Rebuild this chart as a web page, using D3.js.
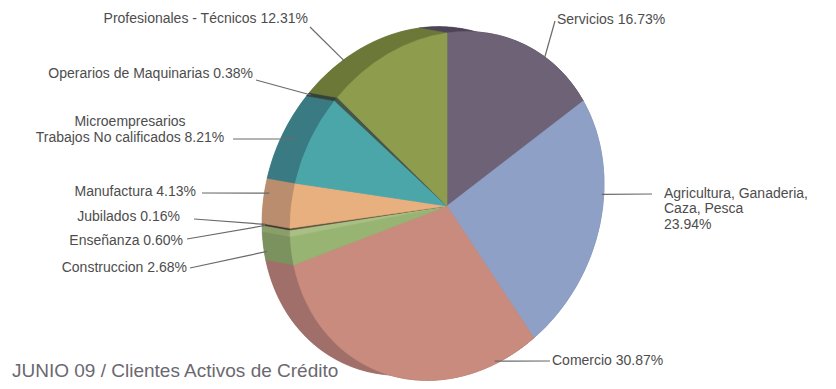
<!DOCTYPE html>
<html>
<head>
<meta charset="utf-8">
<script src="https://cdn.jsdelivr.net/npm/d3@7"></script>
<style>
  html, body { margin: 0; padding: 0; background: #ffffff; }
  svg { display: block; }
</style>
</head>
<body>
<svg id="chart" width="836" height="389"></svg>
<script>
// ---- data: share of active credit clients by sector (June 2009) ----
const categories = [
  "Servicios",
  "Agricultura, Ganaderia,|Caza, Pesca",
  "Comercio",
  "Construccion",
  "Enseñanza",
  "Jubilados",
  "Manufactura",
  "Microempresarios|Trabajos No calificados",
  "Operarios de Maquinarias",
  "Profesionales - Técnicos"
];
const shares = [16.73, 23.94, 30.87, 2.68, 0.60, 0.16, 4.13, 8.21, 0.38, 12.31];
const title = "JUNIO 09 / Clientes Activos de Crédito";

// ---- styles ----
const faceColors = ["#6e6276", "#8fa0c6", "#c98b7e", "#98b473", "#a9bf84",
                    "#5a4c3e", "#e8b07e", "#4ba6aa", "#44574a", "#8e9c4d"];
const sideColors = ["#4e4458", "#6f80a6", "#a06f69", "#7b925f", "#8a9e6a",
                    "#3e342b", "#b98d6d", "#3a7a82", "#34433a", "#6b7838"];

// ---- label layout: text position, value placement and leader line ----
const labelLayout = [
  { x: 557, y: [24], anchor: "start", sep: " ", from: [555, 21], face: "front", level: 57, pad: 0 },
  { x: 664, y: [198, 213, 229], anchor: "start", sep: "|", from: [652, 194], face: "front", level: 194, pad: 2 },
  { x: 552, y: [365], anchor: "start", sep: " ", from: [550, 361], face: "front", level: 361, pad: 6 },
  { x: 187, y: [272], anchor: "end", sep: " ", from: [190, 268], face: "back", level: 252, pad: 3 },
  { x: 183, y: [245], anchor: "end", sep: " ", from: [187, 239], face: "back", level: 226, pad: 3 },
  { x: 180, y: [221], anchor: "end", sep: " ", from: [194, 219], face: "back", level: null, pad: 3 },
  { x: 196, y: [196], anchor: "end", sep: " ", from: [202, 193], face: "back", level: 193, pad: 5 },
  { x: 130, y: [126, 142], anchor: "middle", sep: " ", from: [233, 139], face: "back", level: 139, pad: 16 },
  { x: 253, y: [78], anchor: "end", sep: " ", from: [256, 80], face: "back", level: null, pad: 3 },
  { x: 308, y: [23], anchor: "end", sep: " ", from: [310, 27], face: "back", level: 60, pad: 2 }
];

// ---- geometry of the tilted pie ----
const R = 100;                       // unit radius fed to d3.arc
const cx = 447, cy = 206;            // centre of the top face
const M = { a: 1.57, b: -0.22, c: 0, d: 1.73 };  // projection of the disc
const backOffset = [-28, -5];        // depth of the cylinder

const svg = d3.select("#chart");
const fmt = d3.format(".2f");

const pie = d3.pie().sort(null).value(d => d).startAngle(0).endAngle(2 * Math.PI);
const slices = pie(shares);
const arc = d3.arc().innerRadius(0).outerRadius(R);

function project(theta, r, face) {
  const u = Math.sin(theta) * R * r, v = -Math.cos(theta) * R * r;
  const off = face === "back" ? backOffset : [0, 0];
  return [cx + M.a * u + M.c * v + off[0], cy + M.b * u + M.d * v + off[1]];
}
const matrix = (face) => {
  const off = face === "back" ? backOffset : [0, 0];
  return `matrix(${M.a},${M.b},${M.c},${M.d},${cx + off[0]},${cy + off[1]})`;
};

// back face
svg.append("g").attr("transform", matrix("back"))
  .selectAll("path").data(slices).join("path")
  .attr("d", arc)
  .attr("fill", (d, i) => sideColors[i]);

// side walls between the back and front rims
const line = d3.line();
svg.append("g").selectAll("path").data(slices).join("path")
  .attr("d", d => {
    const n = Math.max(2, Math.ceil((d.endAngle - d.startAngle) / 0.01));
    const ts = d3.range(n + 1).map(k => d.startAngle + (d.endAngle - d.startAngle) * k / n);
    const pts = ts.map(t => project(t, 1, "front"))
      .concat(ts.slice().reverse().map(t => project(t, 1, "back")));
    return line(pts) + "Z";
  })
  .attr("fill", (d, i) => sideColors[i])
  .attr("stroke", (d, i) => sideColors[i])
  .attr("stroke-width", 0.6);

// front face
svg.append("g").attr("transform", matrix("front"))
  .selectAll("path").data(slices).join("path")
  .attr("d", arc)
  .attr("fill", (d, i) => faceColors[i])
  .attr("stroke", (d, i) => faceColors[i])
  .attr("stroke-width", 0.4);

// leader lines
function anchorFor(s, L) {
  let theta = (s.startAngle + s.endAngle) / 2;
  if (L.level !== null) {
    let best = Infinity;
    const n = 400;
    for (let k = 0; k <= n; k++) {
      const t = s.startAngle + (s.endAngle - s.startAngle) * k / n;
      const dy = Math.abs(project(t, 1, L.face)[1] - L.level);
      if (dy < best) { best = dy; theta = t; }
    }
  }
  const p = project(theta, 1, L.face);
  const dx = p[0] - L.from[0], dy = p[1] - L.from[1];
  const len = Math.hypot(dx, dy) || 1;
  return [p[0] + dx / len * L.pad, p[1] + dy / len * L.pad];
}

svg.append("g").selectAll("path").data(slices).join("path")
  .attr("d", (s, i) => line([labelLayout[i].from, anchorFor(s, labelLayout[i])]))
  .attr("fill", "none")
  .attr("stroke", "#6a6a6a")
  .attr("stroke-width", 1.2);

// labels
const labels = svg.append("g")
  .attr("font-family", "'Liberation Sans', Arial, sans-serif")
  .attr("font-size", 14)
  .attr("fill", "#4d4d4d");

categories.forEach((name, i) => {
  const L = labelLayout[i];
  const lines = (name + L.sep + fmt(shares[i]) + "%").split("|");
  const t = labels.append("text").attr("text-anchor", L.anchor);
  lines.forEach((ln, k) => {
    t.append("tspan").attr("x", L.x).attr("y", L.y[k]).text(ln);
  });
});

// title
svg.append("text")
  .attr("x", 12).attr("y", 377)
  .attr("font-family", "'Liberation Sans', Arial, sans-serif")
  .attr("font-size", 19)
  .attr("fill", "#6b6871")
  .text(title);
</script>
</body>
</html>
